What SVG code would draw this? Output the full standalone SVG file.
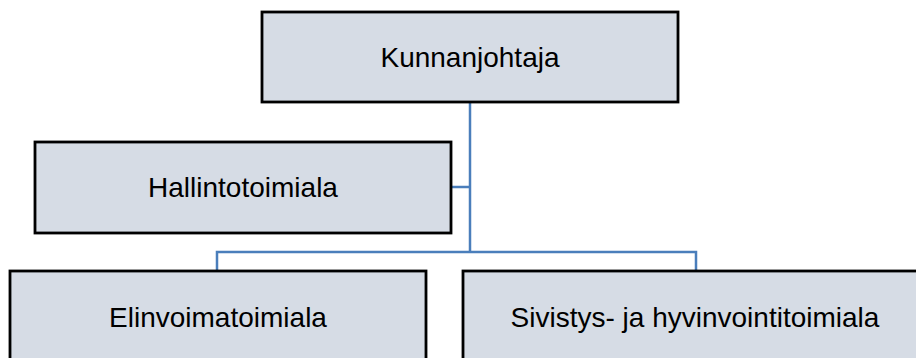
<svg xmlns="http://www.w3.org/2000/svg" width="916" height="358" viewBox="0 0 916 358">
  <style>
    .box { fill: #d6dce5; stroke: #000; stroke-width: 2.8; }
    .lbl { font-family: "Liberation Sans", Arial, sans-serif; font-size: 28px; fill: #000; text-anchor: middle; }
    .conn { fill: none; stroke: #4a7ebb; stroke-width: 2.5; }
  </style>
  <rect width="916" height="358" fill="#fff"/>
  <g id="connectors">
    <path class="conn" d="M470 102 V252"/>
    <path class="conn" d="M451 187 H470"/>
    <path class="conn" d="M217 271 V252 H696 V271"/>
  </g>
  <g id="kunnanjohtaja">
    <rect class="box" x="262" y="12" width="416" height="90"/>
    <text class="lbl" x="470" y="67">Kunnanjohtaja</text>
  </g>
  <g id="hallintotoimiala">
    <rect class="box" x="35" y="142" width="416" height="91"/>
    <text class="lbl" x="243" y="197">Hallintotoimiala</text>
  </g>
  <g id="elinvoimatoimiala">
    <rect class="box" x="10" y="271" width="416" height="90"/>
    <text class="lbl" x="218" y="327">Elinvoimatoimiala</text>
  </g>
  <g id="sivistys">
    <rect class="box" x="463" y="271" width="465" height="90"/>
    <text class="lbl" x="695" y="327">Sivistys- ja hyvinvointitoimiala</text>
  </g>
</svg>
